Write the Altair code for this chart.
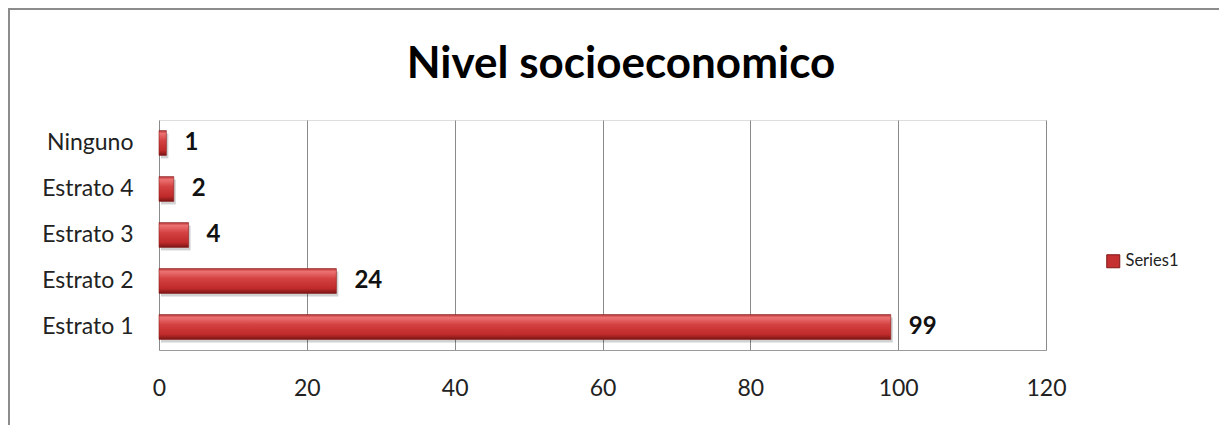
import altair as alt
import pandas as pd

categories = ["Ninguno", "Estrato 4", "Estrato 3", "Estrato 2", "Estrato 1"]
values = [1, 2, 4, 24, 99]
series_name = "Series1"
title_text = "Nivel socioeconomico"
x_ticks = [0, 20, 40, 60, 80, 100, 120]

df = pd.DataFrame({"cat": categories, "val": values, "series": series_name})

FONT = "Lato"
W, H = 887, 230

ycfg = alt.Y("cat:N", sort=categories,
             scale=alt.Scale(paddingInner=0.46, paddingOuter=0.23),
             axis=alt.Axis(title=None, ticks=False, domain=False, labelPadding=26,
                           labelFontSize=23, labelColor="#222", labelFont=FONT))
xcfg = alt.X("val:Q", scale=alt.Scale(domain=[0, 120], nice=False),
             axis=alt.Axis(title=None, values=x_ticks, ticks=False, labelPadding=27,
                           labelFlush=False, labelFontSize=23, labelColor="#222",
                           labelFont=FONT, grid=True, gridColor="#8a8a8a",
                           domainColor="#9a9a9a"))

base = alt.Chart(df)

frame = base.mark_rect(fill=None, stroke="#8c8c8c", strokeWidth=2).encode(
    x=alt.value(-150), x2=alt.value(1227), y=alt.value(-111), y2=alt.value(420)
).transform_filter(alt.datum.cat == "Ninguno")

shadow = base.mark_bar(color="#000000", opacity=0.18, xOffset=2, yOffset=3).encode(
    y=ycfg, x=xcfg)

grad = alt.Gradient(
    gradient="linear", x1=0, y1=0, x2=0, y2=1,
    stops=[
        alt.GradientStop(offset=0, color="#b83535"),
        alt.GradientStop(offset=0.12, color="#ec7272"),
        alt.GradientStop(offset=0.4, color="#d54242"),
        alt.GradientStop(offset=0.8, color="#bf2a2a"),
        alt.GradientStop(offset=1, color="#7a1515"),
    ])

bars = base.mark_bar(color=grad, stroke="#8a1c1c", strokeWidth=0.6).encode(y=ycfg, x=xcfg)

labels = base.mark_text(align="left", baseline="middle", dx=18, fontWeight="bold",
                        fontSize=24, font=FONT, color="#111").encode(
    y=ycfg, x=xcfg, text="val:Q")

legend_layer = base.mark_square(opacity=0).encode(
    y=ycfg, x=xcfg,
    color=alt.Color("series:N", scale=alt.Scale(range=["#c53030"]),
                    legend=alt.Legend(title=None, orient="none", legendX=946, legendY=133,
                                      symbolType="square", symbolSize=169, symbolOpacity=1,
                                      symbolStrokeColor="#7f1717", symbolStrokeWidth=1,
                                      labelFontSize=16.5, labelFont=FONT, labelColor="#222",
                                      labelOffset=4)))

title = base.mark_text(fontSize=44, fontWeight="bold", font=FONT, color="#000",
                       align="center", baseline="alphabetic").encode(
    x=alt.value(462), y=alt.value(-42), text=alt.value(title_text)
).transform_filter(alt.datum.cat == "Ninguno")

chart = alt.layer(frame, shadow, bars, labels, legend_layer, title).properties(
    width=W, height=H,
    autosize=alt.AutoSizeParams(type="none"),
    padding={"left": 151, "top": 112, "right": 173, "bottom": 75},
).configure_view(stroke=None).configure(background="white")

chart.save("out.html", embed_options={"renderer": "svg", "actions": False})
